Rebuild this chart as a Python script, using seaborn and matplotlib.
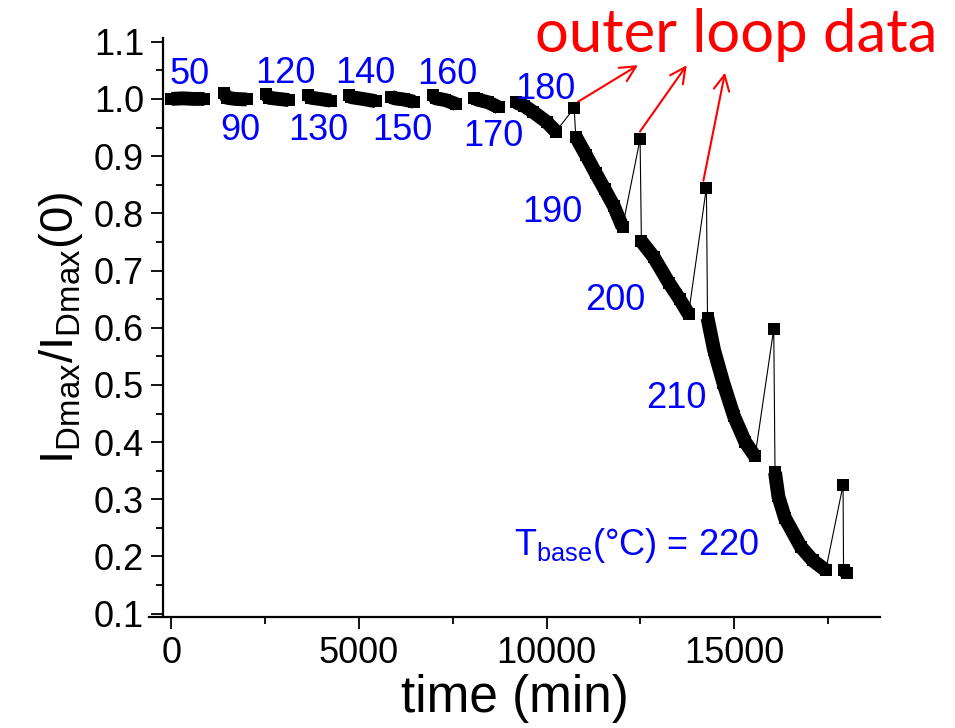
import pandas as pd
import matplotlib
matplotlib.use("Agg")
import matplotlib.pyplot as plt
from matplotlib.ticker import MultipleLocator, FormatStrFormatter
import seaborn as sns

# temperatura de base (°C) de cada trecho medido
temps = [50, 90, 120, 130, 140, 150, 160, 170, 180, 190, 200, 210, 220, 220]

# tempo (min) e I_Dmax/I_Dmax(0) de cada trecho
seg_time = [
    [0, 300, 600, 880],
    [1400, 1480, 1700, 2010],
    [2520, 2600, 2850, 3130],
    [3640, 3720, 3950, 4250],
    [4730, 4800, 5100, 5450],
    [5850, 5950, 6200, 6470],
    [6970, 7050, 7300, 7590],
    [8070, 8150, 8450, 8730],
    [9180, 9400, 9650, 10000, 10250],
    [10780, 11050, 11313, 11550, 11800, 12027],
    [12530, 12853, 13267, 13550, 13787],
    [14293, 14467, 14717, 15000, 15300, 15560],
    [16093, 16182, 16360, 16779, 17100, 17445],
    [17920, 18000],
]
seg_ratio = [
    [1.000, 1.001, 1.000, 1.000],
    [1.010, 1.002, 1.000, 0.999],
    [1.008, 1.002, 1.000, 0.998],
    [1.007, 1.002, 1.000, 0.997],
    [1.006, 1.003, 1.000, 0.996],
    [1.004, 1.001, 0.999, 0.995],
    [1.006, 1.001, 0.998, 0.991],
    [1.002, 0.999, 0.994, 0.985],
    [0.994, 0.988, 0.977, 0.960, 0.943],
    [0.934, 0.902, 0.870, 0.842, 0.812, 0.776],
    [0.751, 0.724, 0.678, 0.650, 0.624],
    [0.617, 0.561, 0.503, 0.445, 0.400, 0.375],
    [0.347, 0.305, 0.267, 0.217, 0.193, 0.176],
    [0.177, 0.171],
]

# pontos do "outer loop"
outer_time = [10737, 12495, 14263, 16059, 17907]
outer_ratio = [0.984, 0.930, 0.845, 0.598, 0.325]

# posicao dos rotulos de temperatura
label_pos = [(493, 1.042), (1827, 0.944), (3027, 1.045), (3907, 0.944),
             (5160, 1.045), (6147, 0.944), (7347, 1.042), (8573, 0.935),
             (9960, 1.017), (10147, 0.802), (11827, 0.648), (13453, 0.477)]

# setas vermelhas (inicio, ponta)
arrows = [((10840, 0.995), (12440, 1.059)),
          ((12493, 0.943), (13740, 1.059)),
          ((14183, 0.857), (14760, 1.046))]

rows = []
for i, (tt, rr) in enumerate(zip(seg_time, seg_ratio)):
    for t, r in zip(tt, rr):
        rows.append({"seg": i, "time": t, "ratio": r})
df = pd.DataFrame(rows)

loop_rows = []
for k in range(len(outer_time)):
    a = 8 + k
    b = 9 + k
    loop_rows.append({"loop": k, "time": seg_time[a][-1], "ratio": seg_ratio[a][-1]})
    loop_rows.append({"loop": k, "time": outer_time[k], "ratio": outer_ratio[k]})
    loop_rows.append({"loop": k, "time": seg_time[b][0], "ratio": seg_ratio[b][0]})
df_loop = pd.DataFrame(loop_rows)
df_outer = pd.DataFrame({"time": outer_time, "ratio": outer_ratio})

sns.set_style("ticks")
plt.rcParams["font.family"] = ["Liberation Sans", "DejaVu Sans"]
plt.rcParams["mathtext.fontset"] = "custom"
plt.rcParams["mathtext.rm"] = "Liberation Sans"
plt.rcParams["mathtext.it"] = "Liberation Sans:italic"
for k in ["text.color", "axes.labelcolor", "xtick.color", "ytick.color", "axes.edgecolor"]:
    plt.rcParams[k] = "black"

fig = plt.figure(figsize=(9.55, 7.28), dpi=100)
ax = fig.add_axes([0.156, 0.1523, 0.9215 - 0.156, 0.9482 - 0.1523])

sns.lineplot(data=df_loop, x="time", y="ratio", units="loop", estimator=None,
             sort=False, color="black", linewidth=0.8, legend=False, ax=ax, zorder=2)
sns.lineplot(data=df, x="time", y="ratio", units="seg", estimator=None,
             sort=False, color="black", linewidth=10, marker="s", markersize=9,
             markeredgewidth=0, solid_capstyle="butt", legend=False, ax=ax, zorder=3)
sns.scatterplot(data=df_outer, x="time", y="ratio", marker="s", s=8.8 ** 2,
                color="black", linewidth=0, legend=False, ax=ax, zorder=4)

ax.set_xlim(-600, 18893)
ax.set_ylim(0.094, 1.107)
ax.set_xticks([0, 5000, 10000, 15000])
ax.xaxis.set_minor_locator(MultipleLocator(2500))
ax.yaxis.set_major_locator(MultipleLocator(0.1))
ax.yaxis.set_minor_locator(MultipleLocator(0.05))
ax.yaxis.set_major_formatter(FormatStrFormatter("%.1f"))

for s in ["top", "right"]:
    ax.spines[s].set_visible(False)
ax.spines["left"].set_position(("data", -227))
for s in ["left", "bottom"]:
    ax.spines[s].set_linewidth(1.6)
ax.tick_params(which="major", direction="out", length=8.6, width=1.3,
               labelsize=26, pad=5, color="black", labelcolor="black")
ax.tick_params(which="minor", direction="out", length=5, width=1.3, color="black")

ax.set_xlabel("time (min)", fontsize=37, labelpad=2)
ax.set_ylabel(r"$\mathrm{I_{Dmax}/I_{Dmax}(0)}$", fontsize=34, labelpad=6)

for (x, y), t in zip(label_pos, temps):
    ax.text(x, y, str(t), color="#0000FF", fontsize=26, ha="center", va="center")
ax.text(12387, 0.220, r"T$_{\mathrm{base}}$(°C) = 220", color="#0000FF",
        fontsize=26, ha="center", va="center")

for (x0, y0), (x1, y1) in arrows:
    ax.annotate("", xy=(x1, y1), xytext=(x0, y0),
                arrowprops=dict(arrowstyle="->", color="red", lw=1.5,
                                mutation_scale=28, shrinkA=0, shrinkB=0))

fig.text(736 / 955, 1 - 35 / 728, "outer loop data", color="red",
         fontsize=43, family="Lato", ha="center", va="center")

fig.savefig("out.png", dpi=100)
